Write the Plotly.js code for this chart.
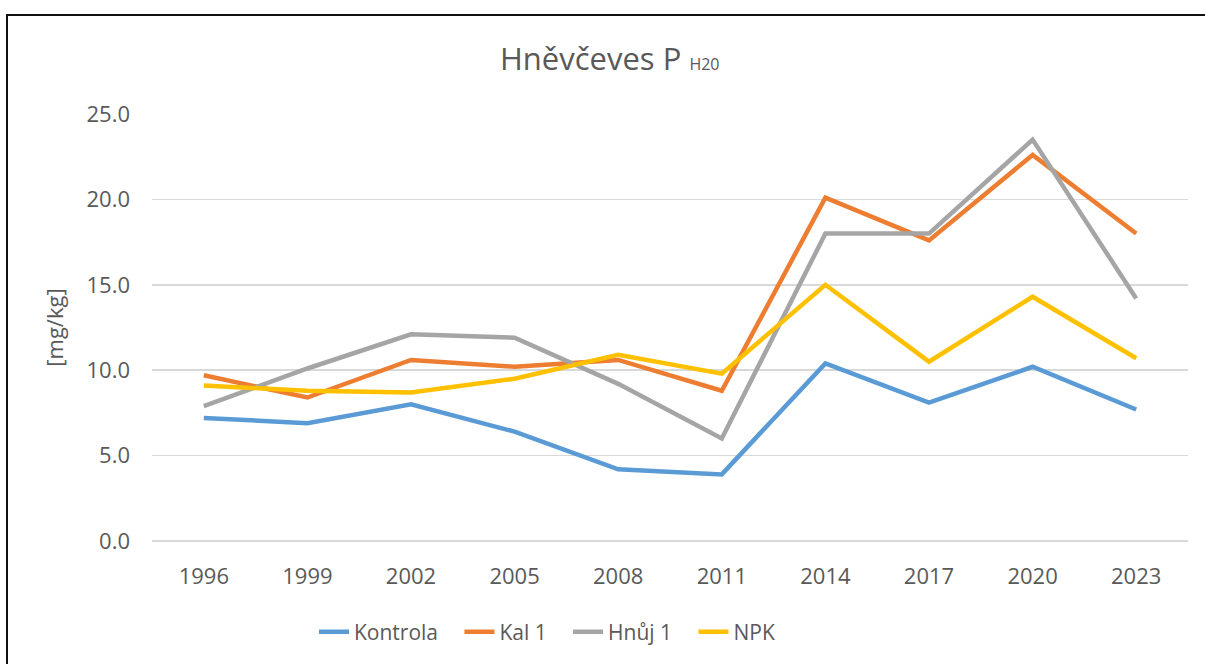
<!DOCTYPE html>
<html>
<head>
<meta charset="utf-8">
<script src="https://cdn.plot.ly/plotly-3.0.1.min.js"></script>
<style>
  html, body { margin: 0; padding: 0; background: #fff; }
  #wrap { position: relative; width: 1205px; height: 664px; overflow: hidden; }
  #chart { width: 1205px; height: 664px; }
  #frame { position: absolute; left: 6px; top: 14px; width: 1220px; height: 680px;
           border: 2.5px solid #111; box-sizing: border-box; pointer-events: none; }
</style>
</head>
<body>
<div id="wrap">
  <div id="chart"></div>
  <div id="frame"></div>
</div>
<script>
const years = ["1996", "1999", "2002", "2005", "2008", "2011", "2014", "2017", "2020", "2023"];
const kontrola = [7.2, 6.9, 8.0, 6.4, 4.2, 3.9, 10.4, 8.1, 10.2, 7.7];
const kal1     = [9.7, 8.4, 10.6, 10.2, 10.6, 8.8, 20.1, 17.6, 22.6, 18.0];
const hnuj1    = [7.9, 10.1, 12.1, 11.9, 9.2, 6.0, 18.0, 18.0, 23.5, 14.2];
const npk      = [9.1, 8.8, 8.7, 9.5, 10.9, 9.8, 15.0, 10.5, 14.3, 10.7];
const seriesNames = ["Kontrola", "Kal 1", "Hnůj 1", "NPK"];
const yTicks = [0, 5, 10, 15, 20, 25];

const colors = ["#5B9BD5", "#ED7D31", "#A5A5A5", "#FFC000"];
const font = "Open Sans, Noto Sans, sans-serif";
const txt = "#595959";
const pad = "\u00a0\u00a0\u00a0";

const data = [kontrola, kal1, hnuj1, npk].map((vals, i) => ({
  type: "scatter",
  mode: "lines",
  x: years,
  y: vals,
  name: seriesNames[i] + pad,
  line: { color: colors[i], width: 4.5 },
  hoverinfo: "x+y+name"
}));

const layout = {
  width: 1205,
  height: 664,
  paper_bgcolor: "#fff",
  plot_bgcolor: "#fff",
  margin: { l: 152, r: 17, t: 114, b: 123 },
  font: { family: font, color: txt, size: 22 },
  title: {
    text: 'Hněvčeves P <span style="font-size:16px">H20</span>',
    font: { family: font, size: 31, color: txt },
    x: 0.506, xref: "container", xanchor: "center",
    y: 1 - 59 / 664, yref: "container", yanchor: "middle"
  },
  xaxis: {
    type: "category",
    categoryarray: years,
    range: [-0.5, 9.5],
    showgrid: false,
    showline: false,
    zeroline: false,
    ticks: "",
    ticklabelstandoff: 20,
    tickfont: { family: font, size: 22, color: txt },
    fixedrange: true
  },
  yaxis: {
    range: [0, 25],
    tickvals: yTicks,
    ticktext: yTicks.map(v => v.toFixed(1)),
    showgrid: true,
    gridcolor: "#D9D9D9",
    gridwidth: 1.5,
    zeroline: true,
    zerolinecolor: "#D9D9D9",
    zerolinewidth: 1.5,
    showline: false,
    ticks: "",
    ticklabelstandoff: 21,
    tickfont: { family: font, size: 22, color: txt },
    title: { text: "[mg/kg]", font: { family: font, size: 22, color: txt }, standoff: 16 },
    fixedrange: true
  },
  legend: {
    orientation: "h",
    x: 314 / 1205, xref: "container", xanchor: "left",
    y: 1 - 632 / 664, yref: "container", yanchor: "middle",
    font: { family: font, size: 21, color: txt },
    itemwidth: 30,
    traceorder: "normal"
  },
  showlegend: true
};

Plotly.newPlot("chart", data, layout, { displayModeBar: false, staticPlot: true });
</script>
</body>
</html>
